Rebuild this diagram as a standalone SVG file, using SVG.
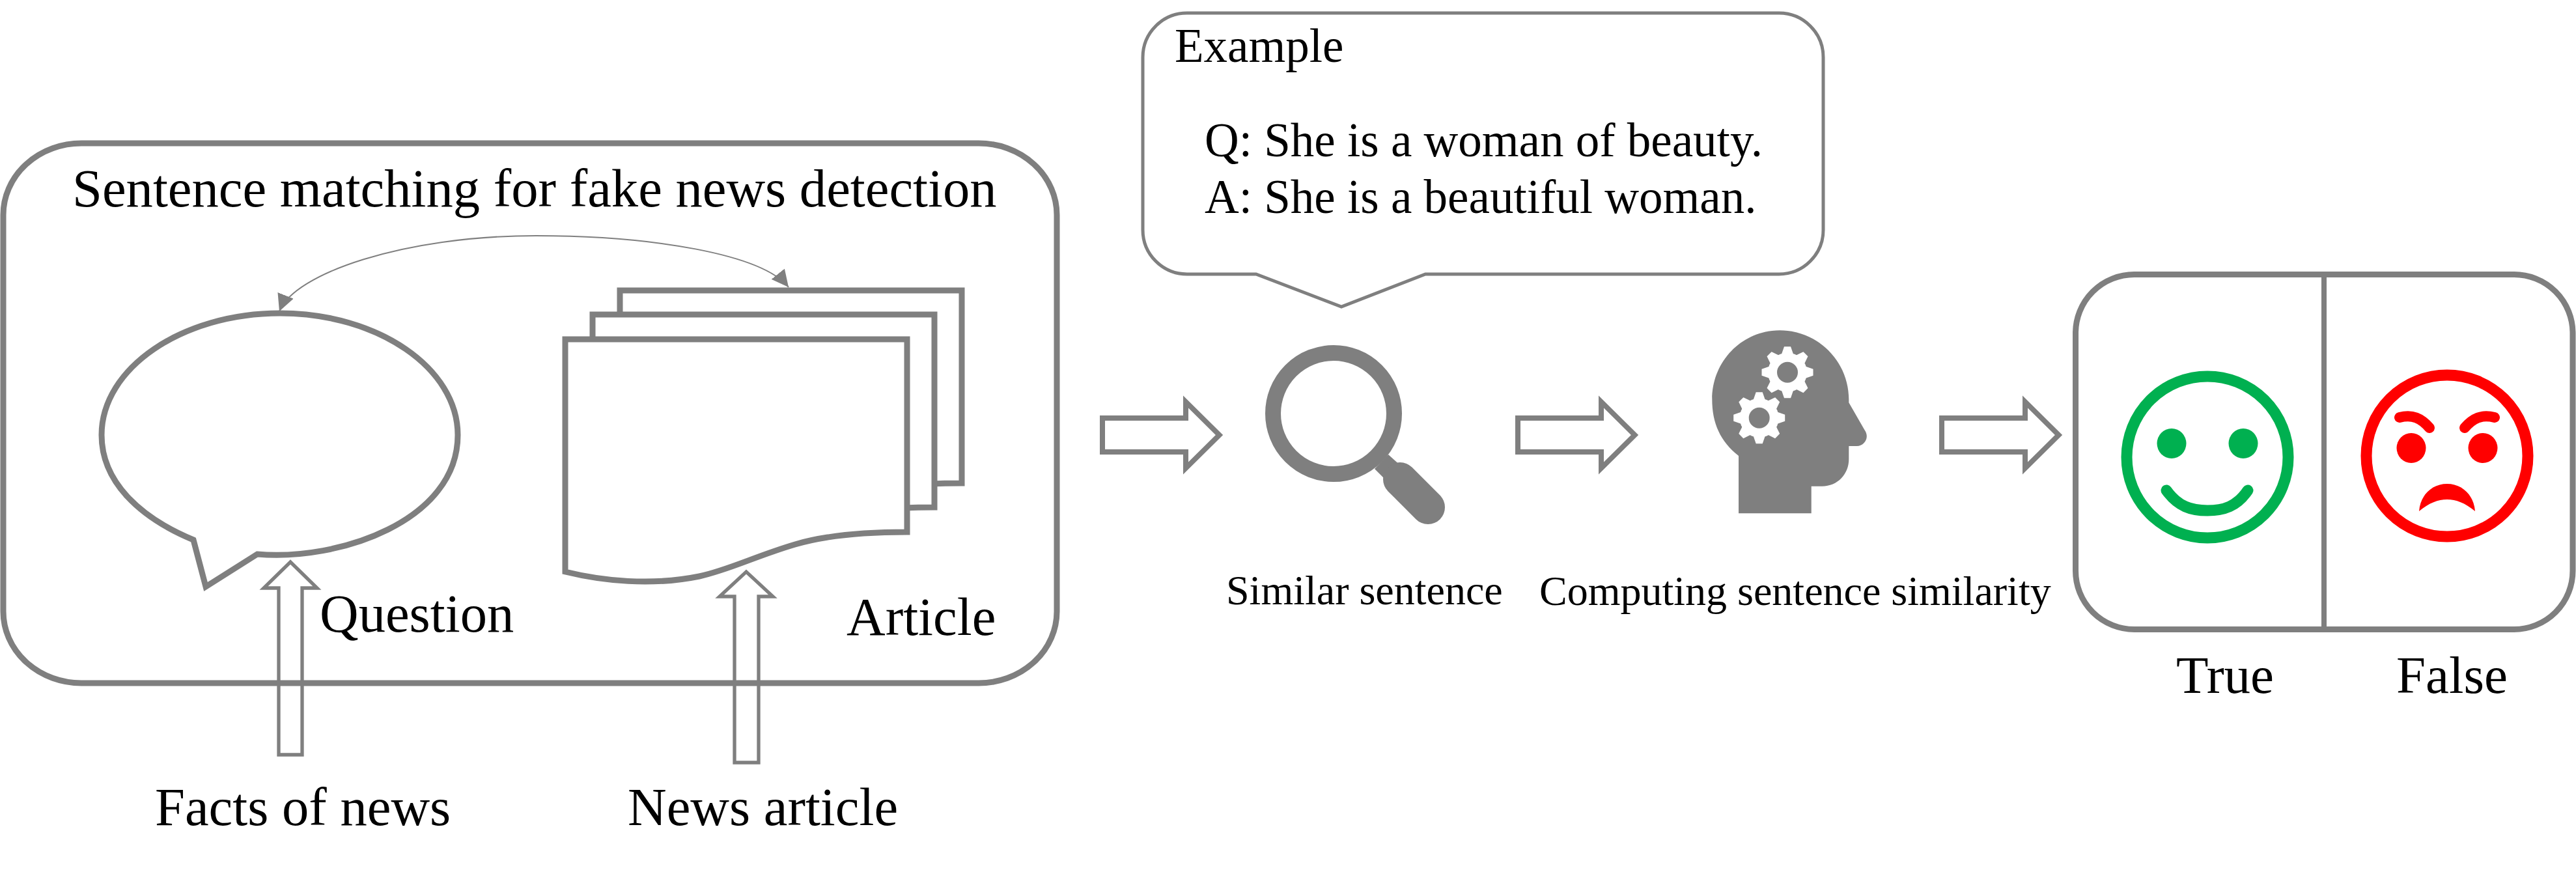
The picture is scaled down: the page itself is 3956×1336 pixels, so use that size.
<svg xmlns="http://www.w3.org/2000/svg" width="3956" height="1336" viewBox="0 0 3956 1336">
<style>
text{font-family:"Liberation Serif","Times New Roman",serif;fill:#000}
.big{font-size:82.6px}.mid{font-size:73px}.sm{font-size:64px}
.out{fill:#fff;stroke:#7f7f7f;stroke-width:9}
.blk{fill:none;stroke:#7f7f7f;stroke-width:9}
.arr{fill:#fff;stroke:#7f7f7f;stroke-width:8}
.up{fill:#fff;stroke:#7f7f7f;stroke-width:5.3}
.g{fill:#7f7f7f}.w{fill:#fff}
</style>
<defs>
<marker id="ah" markerUnits="userSpaceOnUse" markerWidth="28" markerHeight="26" refX="26" refY="13" orient="auto-start-reverse"><path d="M0,0L26,13L0,26Z" fill="#7f7f7f"/></marker>
<g id="gear"><circle r="30" class="w"/><g class="w"><polygon id="t" points="-5,-39.5 5,-39.5 9,-28 9,28 5,39.5 -5,39.5 -9,28 -9,-28"/><use href="#t" transform="rotate(45)"/><use href="#t" transform="rotate(90)"/><use href="#t" transform="rotate(135)"/></g><circle r="16" class="g"/></g>
<path id="doc" d="M868,521H1393V817C1340,817 1275,820 1221,836C1160,854 1120,875 1074,885C1000,900 925,892 868,878Z" class="out"/>
</defs>
<rect width="3956" height="1336" fill="#fff"/>
<g id="connectors">
<path d="M429,478C452,420 620,362 823,362C1000,362 1170,390 1211,441" fill="none" stroke="#7f7f7f" stroke-width="2" marker-start="url(#ah)" marker-end="url(#ah)"/>
<polygon class="up" points="428,1159 464,1159 464,903 487,903 446,863 405,903 428,903"/>
<polygon class="up" points="1128,1171 1165,1171 1165,916 1187,916 1146,878 1105,916 1128,916"/>
<polygon class="arr" points="1693,642 1821,642 1821,617 1872.5,668 1821,719 1821,694 1693,694"/>
<polygon class="arr" points="2331,642 2459,642 2459,617 2510.5,668 2459,719 2459,694 2331,694"/>
<polygon class="arr" points="2982,642 3110,642 3110,617 3161.5,668 3110,719 3110,694 2982,694"/>
</g>
<g id="matching">
<rect x="5" y="220" width="1618" height="829" rx="120" ry="110" class="blk"/>
<text x="111" y="317" class="big">Sentence matching for fake news detection</text>
</g>
<g id="question">
<path d="M297,829L316,901L395,851C520,862 703,800 703,668C703,565 580,481 430,481C280,481 156,565 156,668C156,740 215,795 297,829Z" class="out"/>
<text x="491" y="970" class="big">Question</text>
</g>
<g id="article">
<use href="#doc" x="84" y="-75"/><use href="#doc" x="42" y="-38"/><use href="#doc"/>
<text x="1300" y="975" class="big">Article</text>
</g>
<g id="facts"><text x="238" y="1267" class="big">Facts of news</text></g>
<g id="news"><text x="964" y="1267" class="big">News article</text></g>
<g id="example">
<path d="M1823,20H2732A68,68 0 0 1 2800,88V353A68,68 0 0 1 2732,421H2189L2060,471L1929,421H1823A68,68 0 0 1 1755,353V88A68,68 0 0 1 1823,20Z" fill="#fff" stroke="#7f7f7f" stroke-width="5"/>
<text x="1804" y="95" class="mid">Example</text>
<text x="1850" y="240" class="mid">Q: She is a woman of beauty.</text>
<text x="1850" y="327" class="mid">A: She is a beautiful woman.</text>
</g>
<g id="similar">
<circle cx="2048" cy="635" r="93" fill="none" stroke="#7f7f7f" stroke-width="24"/>
<polygon points="2132,698 2111,720 2130,739 2152,716" class="g"/>
<line x1="2150" y1="736" x2="2193" y2="779" stroke="#7f7f7f" stroke-width="52" stroke-linecap="round"/>
<text x="1883" y="928" class="sm">Similar sentence</text>
</g>
<g id="computing">
<path d="M2670,788.3H2781.7V746.7H2798.3C2822,746.7 2839.3,728 2839.3,705V685H2851.7C2863,685 2872,672 2863.3,660L2839.3,618.3V613.3C2839.3,555 2792,507.3 2733.3,507.3C2675,507.3 2629.3,555 2629.3,613.3C2629.3,650 2642,678 2670,700Z" class="g"/>
<use href="#gear" x="2745" y="571.7"/><use href="#gear" x="2701.7" y="641.7"/>
<text x="2364" y="929" class="sm">Computing sentence similarity</text>
</g>
<g id="result">
<rect x="3187.5" y="421.5" width="763.5" height="545" rx="90" ry="90" class="blk"/>
<line x1="3569" y1="421" x2="3569" y2="966" stroke="#7f7f7f" stroke-width="8"/>
<text x="3342" y="1064" font-size="81">True</text>
<text x="3680" y="1064" font-size="81">False</text>
</g>
<g id="true-face" fill="#00b050" stroke="none">
<circle cx="3390" cy="702" r="124" fill="none" stroke="#00b050" stroke-width="17"/>
<ellipse cx="3335" cy="681" rx="22.5" ry="23"/><ellipse cx="3445" cy="681" rx="22.5" ry="23"/>
<path d="M3327,753C3345,778 3365,784 3390,784C3415,784 3435,778 3452,753" fill="none" stroke="#00b050" stroke-width="17" stroke-linecap="round"/>
</g>
<g id="false-face" fill="#f00" stroke="none">
<circle cx="3758" cy="700" r="124" fill="none" stroke="#f00" stroke-width="17"/>
<ellipse cx="3703" cy="688" rx="22.5" ry="23"/><ellipse cx="3813" cy="688" rx="22.5" ry="23"/>
<path d="M3685,641C3705,636 3718,642 3731,657M3831,641C3811,636 3798,642 3785,657" fill="none" stroke="#f00" stroke-width="16" stroke-linecap="round"/>
<path d="M3715,785C3717,760 3735,743 3758,743C3781,743 3799,760 3801,785C3785,772 3772,767 3758,767C3744,767 3731,772 3715,785Z"/>
</g>
</svg>
